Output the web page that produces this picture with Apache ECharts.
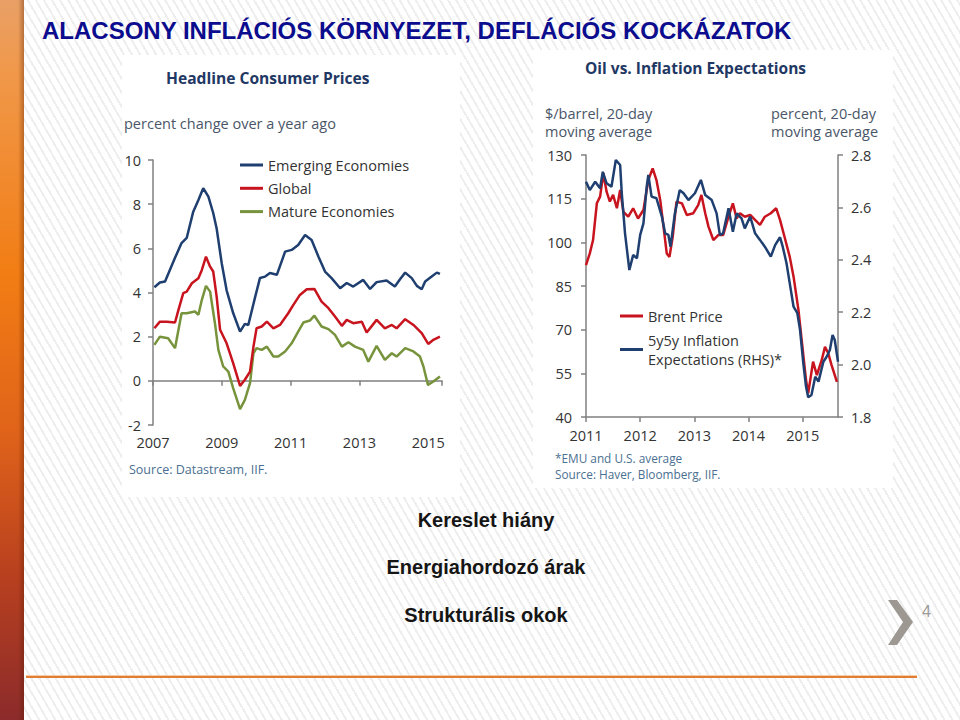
<!DOCTYPE html>
<html><head><meta charset="utf-8">
<script src="https://cdn.jsdelivr.net/npm/echarts@6/dist/echarts.min.js"></script>
<style>
html,body{margin:0;padding:0;width:960px;height:720px;overflow:hidden;}
body{background:#fff repeating-linear-gradient(60deg,#ffffff 0px,#ffffff 5px,#eeeeee 5px,#eeeeee 7px);}
#c{width:960px;height:720px;}
</style></head><body><div id="c"></div>
<script>
// ---- Left chart: Headline Consumer Prices (percent change over a year ago) ----
const cpiYearTicks = [2007, 2009, 2011, 2013, 2015];
const emerging = [
[2007.04,4.24],[2007.20,4.45],[2007.35,4.5],[2007.64,5.57],[2007.83,6.24],[2007.98,6.47],[2008.17,7.66],[2008.32,8.19],[2008.46,8.72],[2008.61,8.34],[2008.75,7.6],[2008.85,6.9],[2009.0,5.3],[2009.14,4.1],[2009.33,3.07],[2009.53,2.23],[2009.67,2.58],[2009.77,2.53],[2009.97,3.8],[2010.11,4.66],[2010.26,4.72],[2010.40,4.88],[2010.60,4.8],[2010.84,5.85],[2011.03,5.93],[2011.22,6.15],[2011.42,6.6],[2011.61,6.38],[2011.81,5.62],[2012.0,4.95],[2012.19,4.65],[2012.44,4.19],[2012.63,4.43],[2012.82,4.27],[2013.11,4.57],[2013.31,4.16],[2013.50,4.47],[2013.79,4.54],[2014.03,4.27],[2014.18,4.6],[2014.33,4.9],[2014.52,4.65],[2014.67,4.3],[2014.81,4.15],[2014.91,4.5],[2015.10,4.72],[2015.25,4.9],[2015.34,4.84]
];
const globalCpi = [
[2007.04,2.38],[2007.20,2.68],[2007.40,2.68],[2007.64,2.64],[2007.74,3.21],[2007.88,3.97],[2007.98,4.04],[2008.13,4.42],[2008.32,4.65],[2008.42,5.02],[2008.54,5.62],[2008.66,5.17],[2008.75,4.95],[2008.85,3.81],[2008.95,2.31],[2009.14,1.7],[2009.33,0.8],[2009.53,-0.23],[2009.67,0.05],[2009.82,0.42],[2009.92,1.55],[2010.01,2.38],[2010.16,2.46],[2010.31,2.68],[2010.50,2.38],[2010.69,2.53],[2010.93,3.06],[2011.08,3.44],[2011.27,3.89],[2011.47,4.15],[2011.69,4.16],[2011.90,3.59],[2012.10,3.29],[2012.29,2.91],[2012.49,2.49],[2012.63,2.76],[2012.82,2.61],[2013.07,2.68],[2013.21,2.19],[2013.50,2.76],[2013.74,2.38],[2013.94,2.53],[2014.08,2.38],[2014.33,2.79],[2014.57,2.53],[2014.81,2.16],[2015.0,1.67],[2015.15,1.86],[2015.34,2.0]
];
const mature = [
[2007.04,1.63],[2007.20,2.0],[2007.44,1.93],[2007.64,1.48],[2007.83,3.06],[2007.98,3.06],[2008.22,3.14],[2008.32,2.99],[2008.42,3.67],[2008.54,4.3],[2008.66,4.04],[2008.80,2.61],[2008.90,1.4],[2009.04,0.65],[2009.19,0.42],[2009.33,-0.33],[2009.53,-1.28],[2009.67,-0.86],[2009.82,-0.1],[2009.92,1.25],[2010.01,1.48],[2010.16,1.4],[2010.31,1.55],[2010.50,1.1],[2010.64,1.1],[2010.84,1.33],[2011.03,1.7],[2011.22,2.23],[2011.37,2.64],[2011.56,2.73],[2011.69,2.95],[2011.90,2.46],[2012.10,2.34],[2012.29,2.08],[2012.49,1.55],[2012.68,1.75],[2012.87,1.55],[2013.11,1.4],[2013.26,0.87],[2013.50,1.58],[2013.74,0.95],[2013.94,1.25],[2014.08,1.1],[2014.33,1.48],[2014.57,1.33],[2014.76,1.1],[2014.86,0.65],[2014.99,-0.18],[2015.15,-0.03],[2015.34,0.2]
];

// ---- Right chart: Oil vs. Inflation Expectations ----
const brent = [
[2011.0,92.2],[2011.07,96.2],[2011.13,100.8],[2011.20,113.4],[2011.26,115.7],[2011.32,123.7],[2011.38,117.4],[2011.44,114],[2011.50,116.3],[2011.57,111.7],[2011.63,118],[2011.69,110.5],[2011.78,108.8],[2011.87,111.7],[2011.96,108.2],[2012.06,111.1],[2012.15,121.4],[2012.23,125.4],[2012.30,121.4],[2012.37,114.5],[2012.43,105.4],[2012.49,96.2],[2012.54,95],[2012.60,101.9],[2012.67,114],[2012.77,113.4],[2012.86,109.4],[2012.98,110],[2013.07,112.8],[2013.13,116.3],[2013.20,110],[2013.26,105.4],[2013.35,100.8],[2013.44,102.5],[2013.53,102.5],[2013.63,108.8],[2013.71,113.4],[2013.78,108.2],[2013.84,110],[2013.93,108.8],[2014.03,109.4],[2014.12,107.7],[2014.21,106],[2014.30,108.8],[2014.41,110],[2014.51,111.7],[2014.58,107.7],[2014.67,101.4],[2014.76,95],[2014.83,88.2],[2014.92,76.8],[2014.98,66.4],[2015.06,52.7],[2015.10,48.1],[2015.19,59],[2015.26,54.4],[2015.35,59.6],[2015.41,64.1],[2015.47,61.9],[2015.53,57.9],[2015.63,52.1]
];
const inflExp5y5y = [
[2011.0,2.698],[2011.07,2.666],[2011.17,2.698],[2011.26,2.673],[2011.31,2.736],[2011.38,2.692],[2011.47,2.679],[2011.55,2.781],[2011.63,2.762],[2011.66,2.654],[2011.72,2.501],[2011.80,2.361],[2011.87,2.418],[2011.94,2.406],[2012.0,2.495],[2012.06,2.539],[2012.12,2.679],[2012.15,2.724],[2012.21,2.641],[2012.30,2.635],[2012.40,2.565],[2012.46,2.501],[2012.52,2.495],[2012.56,2.45],[2012.64,2.577],[2012.73,2.666],[2012.80,2.654],[2012.89,2.628],[2013.01,2.654],[2013.12,2.705],[2013.20,2.647],[2013.32,2.628],[2013.41,2.577],[2013.47,2.495],[2013.53,2.501],[2013.63,2.597],[2013.71,2.507],[2013.78,2.577],[2013.87,2.558],[2013.93,2.52],[2014.03,2.565],[2014.12,2.501],[2014.21,2.476],[2014.30,2.45],[2014.41,2.412],[2014.49,2.456],[2014.58,2.486],[2014.63,2.45],[2014.70,2.387],[2014.76,2.31],[2014.83,2.221],[2014.90,2.196],[2014.95,2.132],[2015.01,2.005],[2015.06,1.916],[2015.10,1.875],[2015.16,1.884],[2015.23,1.954],[2015.29,1.935],[2015.38,2.011],[2015.44,2.03],[2015.50,2.056],[2015.55,2.113],[2015.59,2.094],[2015.65,2.011]
];

const FONT = "'Open Sans', sans-serif";
const AX = '#808080';
const LBL = '#333333';
const BLUE = '#1f3f70', RED = '#c8141e', GREEN = '#77933c';
const NAVY = '#1f3864', SUB = '#4a5668', SRC = '#4a6f91';

const chart = echarts.init(document.getElementById('c'), null, {renderer:'svg', width:960, height:720});

function txt(text, x, y, size, opt) {
  opt = opt || {};
  return {type:'text', z: 10, style:{text:text, x:x, y:y, fontSize:size, fontFamily:opt.family||FONT,
    fontWeight:opt.weight||'normal', fill:opt.color||LBL, textAlign:opt.align||'left', textVerticalAlign:'middle'}};
}
const axLine = {show:true, lineStyle:{color:AX, width:1.5}};
const axTick = {show:true, length:5, lineStyle:{color:AX, width:1.5}};
const lblStyle = {color:LBL, fontSize:14.5, fontFamily:FONT};

const option = {
  backgroundColor:'transparent',
  animation:false,
  grid:[
    {left:153, top:160, width:289, height:265},
    {left:586, top:155, width:252, height:262}
  ],
  xAxis:[
    {gridIndex:0, type:'value', min:cpiYearTicks[0], max:2015.4, interval:2, position:'bottom',
     axisLine:{show:false, onZero:false}, axisTick:{show:false}, splitLine:{show:false},
     axisLabel:Object.assign({margin:10, showMaxLabel:false, formatter:function(v){return cpiYearTicks.indexOf(v)>=0?String(v):'';}}, lblStyle)},
    {gridIndex:0, type:'value', min:cpiYearTicks[0], max:2015.4, interval:2, position:'bottom',
     axisLine:{show:true, onZero:true, onZeroAxisIndex:0, lineStyle:{color:AX, width:1.5}}, axisTick:axTick,
     axisLabel:{show:false}, splitLine:{show:false}},
    {gridIndex:1, type:'value', min:2011, max:2015.65, interval:1, position:'bottom',
     axisLine:{show:true, onZero:false, lineStyle:{color:AX, width:1.5}}, axisTick:axTick, splitLine:{show:false},
     axisLabel:Object.assign({margin:11, showMaxLabel:false, formatter:function(v){return Number.isInteger(v)?String(v):'';}}, lblStyle)}
  ],
  yAxis:[
    {gridIndex:0, type:'value', min:-2, max:10, interval:2, position:'left',
     axisLine:Object.assign({onZero:false}, axLine), axisTick:axTick, splitLine:{show:false},
     axisLabel:Object.assign({margin:12}, lblStyle)},
    {gridIndex:1, type:'value', min:40, max:130, interval:15, position:'left',
     axisLine:Object.assign({onZero:false}, axLine), axisTick:axTick, splitLine:{show:false},
     axisLabel:Object.assign({margin:14}, lblStyle)},
    {gridIndex:1, type:'value', min:1.8, max:2.8, interval:0.2, position:'right',
     axisLine:Object.assign({onZero:false}, axLine), axisTick:axTick, splitLine:{show:false},
     axisLabel:Object.assign({margin:13, formatter:function(v){return v.toFixed(1);}}, lblStyle)}
  ],
  legend:[
    {data:['Emerging Economies','Global','Mature Economies'], orient:'vertical', left:240, top:156,
     icon:'rect', itemWidth:23, itemHeight:3, itemGap:5.3, padding:0, selectedMode:false,
     textStyle:{fontSize:14.5, fontFamily:FONT, color:LBL, lineHeight:18}},
    {data:['Brent Price'], orient:'vertical', left:620, top:307,
     icon:'rect', itemWidth:23, itemHeight:3, padding:0, selectedMode:false,
     textStyle:{fontSize:14.5, fontFamily:FONT, color:LBL, lineHeight:18}},
    {data:['5y5y Inflation Expectations (RHS)*'], orient:'vertical', left:620, top:321,
     icon:'rect', itemWidth:23, itemHeight:3, padding:0, selectedMode:false,
     formatter:function(){return '5y5y Inflation\nExpectations (RHS)*';},
     textStyle:{fontSize:14.5, fontFamily:FONT, color:LBL, lineHeight:19, padding:[19,0,0,0]}}
  ],
  series:[
    {name:'Mature Economies', type:'line', xAxisIndex:0, yAxisIndex:0, data:mature, showSymbol:false, symbol:'none',
     lineStyle:{width:2.5, color:GREEN}, itemStyle:{color:GREEN}},
    {name:'Global', type:'line', xAxisIndex:0, yAxisIndex:0, data:globalCpi, showSymbol:false, symbol:'none',
     lineStyle:{width:2.5, color:RED}, itemStyle:{color:RED}},
    {name:'Emerging Economies', type:'line', xAxisIndex:0, yAxisIndex:0, data:emerging, showSymbol:false, symbol:'none',
     lineStyle:{width:2.5, color:BLUE}, itemStyle:{color:BLUE}},
    {name:'Brent Price', type:'line', xAxisIndex:2, yAxisIndex:1, data:brent, showSymbol:false, symbol:'none',
     lineStyle:{width:2.5, color:RED}, itemStyle:{color:RED}},
    {name:'5y5y Inflation Expectations (RHS)*', type:'line', xAxisIndex:2, yAxisIndex:2, data:inflExp5y5y, showSymbol:false, symbol:'none',
     lineStyle:{width:2.5, color:BLUE}, itemStyle:{color:BLUE}}
  ],
  graphic:[
    // left orange bar
    {type:'rect', z:-10, shape:{x:0, y:0, width:24, height:720},
     style:{fill:{type:'linear', x:0, y:0, x2:0, y2:1, colorStops:[
       {offset:0, color:'#e9a066'},{offset:0.1, color:'#f0984a'},{offset:0.38, color:'#f27d14'},
       {offset:0.6, color:'#e0631a'},{offset:0.8, color:'#b8401f'},{offset:1, color:'#8c2b2b'}]}}},
    {type:'rect', z:-9, shape:{x:18, y:0, width:6, height:720},
     style:{fill:{type:'linear', x:0, y:0, x2:1, y2:0, colorStops:[
       {offset:0, color:'rgba(80,25,0,0)'},{offset:1, color:'rgba(80,25,0,0.35)'}]}}},
    // chart panels
    {type:'rect', z:-5, shape:{x:122, y:55, width:338, height:442}, style:{fill:'#ffffff'}},
    {type:'rect', z:-5, shape:{x:533, y:50, width:360, height:438}, style:{fill:'#ffffff'}},
    // slide title
    txt('ALACSONY INFLÁCIÓS KÖRNYEZET, DEFLÁCIÓS KOCKÁZATOK', 42, 30, 24, {family:"'Liberation Sans', Arial, sans-serif", weight:'bold', color:'#0c0c8e'}),
    // left chart texts
    txt('Headline Consumer Prices', 166, 78, 15.6, {weight:'bold', color:NAVY}),
    txt('percent change over a year ago', 124, 123, 14.5, {color:SUB}),
    txt('Source: Datastream, IIF.', 129, 469, 12.5, {color:SRC}),
    // right chart texts
    txt('Oil vs. Inflation Expectations', 585, 68, 15.5, {weight:'bold', color:NAVY}),
    txt('$/barrel, 20-day', 545, 113, 14.5, {color:SUB}),
    txt('moving average', 545, 131.5, 14.5, {color:SUB}),
    txt('percent, 20-day', 771, 113, 14.5, {color:SUB}),
    txt('moving average', 771, 131.5, 14.5, {color:SUB}),
    txt('*EMU and U.S. average', 555, 457.5, 11.8, {color:SRC}),
    txt('Source: Haver, Bloomberg, IIF.', 555, 474, 11.8, {color:SRC}),
    // bullet texts
    txt('Kereslet hiány', 486, 520, 20, {family:"'Liberation Sans', Arial, sans-serif", weight:'bold', color:'#151515', align:'center'}),
    txt('Energiahordozó árak', 486, 567, 20, {family:"'Liberation Sans', Arial, sans-serif", weight:'bold', color:'#151515', align:'center'}),
    txt('Strukturális okok', 486, 615, 20, {family:"'Liberation Sans', Arial, sans-serif", weight:'bold', color:'#151515', align:'center'}),
    // page number & chevron
    txt('4', 922, 611, 16, {family:"'Liberation Sans', Arial, sans-serif", color:'#9a9a9a'}),
    {type:'polygon', z:5, shape:{points:[[888,600],[897,600],[913,622],[897,645],[888,645],[903,622]]}, style:{fill:'#9e9893'}},
    // bottom orange rule
    {type:'rect', z:5, shape:{x:26, y:676, width:891, height:2}, style:{fill:'#e27d34'}},
    {type:'rect', z:5, shape:{x:26, y:675, width:891, height:1}, style:{fill:'rgba(245,190,140,0.8)'}}
  ]
};
chart.setOption(option);
</script>
</body></html>
